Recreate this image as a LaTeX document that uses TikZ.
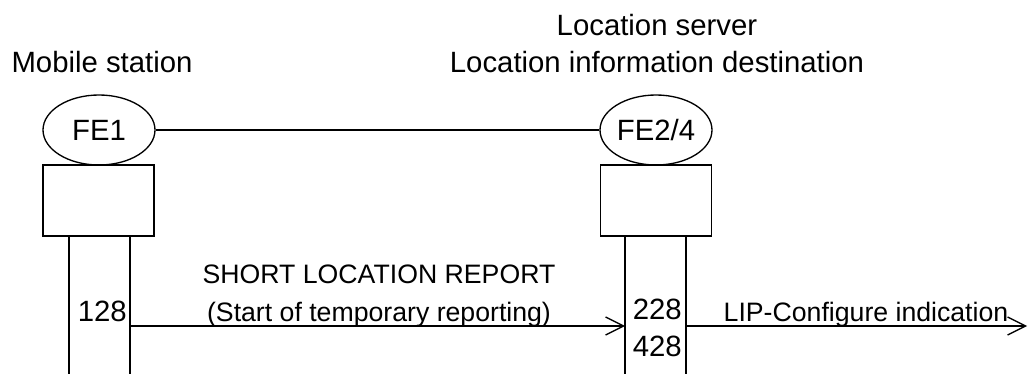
\documentclass[tikz,border=0pt]{standalone}
\usepackage{fontspec}
\setmainfont{Liberation Sans}
\usetikzlibrary{positioning,shapes.geometric,arrows.meta}
\tikzset{
 fe/.style
  = {ellipse, draw, line width=1pt, minimum width=84pt, minimum height=52.5pt,
     inner sep=0pt, font=\fontsize{22}{26}\selectfont},
 fb/.style
  = {rectangle, draw, line width=1pt, minimum width=83.25pt, minimum height=53.25pt},
 hd/.style
  = {anchor=base, inner sep=0pt, font=\fontsize{22}{26}\selectfont},
 num/.style
  = {anchor=base east, inner sep=0pt, font=\fontsize{22}{26}\selectfont},
 lbl/.style
  = {anchor=base, inner sep=0pt, font=\fontsize{20}{24}\selectfont},
 l/.style
  = {draw, line width=1pt},
 la/.style
  = {draw, line width=1pt, -{Straight Barb[length=13.5pt,width=13.5pt]}}
}
\begin{document}
\begin{tikzpicture}[x=0.75pt,y=-0.75pt]
    \useasboundingbox (0,0) rectangle (1029,374);
    \node [hd] (ms) at (102,73) {Mobile station};
    \node [hd] (ls) at (657,36) {Location server};
    \node [hd] (lid) at (657,73) {Location information destination};

    \node [fe] (fe1) at (99,130) {FE1};
    \node [fe] (fe2) at (656,130) {FE2/4};
    \node [fb] (fe1box) at (98.5,200.5) {};
    \node [fb] (fe2box) at (656,200.5) {};
    \path [l] (fe1) -- (fe2);

    % lifelines
    \foreach \x/\n in {69/msa,130/msb,625/lsa,686/lsb} {
      \coordinate (\n-t) at (\x,236);
      \coordinate (\n-b) at (\x,374);
      \path [l] (\n-t) -- (\n-b);
    }
    \coordinate (msb-m) at (130,326);
    \coordinate (lsa-m) at (625,326);
    \coordinate (lsb-m) at (686,326);
    \coordinate (out) at (1027,326);

    \node [num] (n128) at (127,321) {128};
    \node [num] (n228) at (682,320) {228};
    \node [num] (n428) at (682,356) {428};

    \path [la] (msb-m) -- (lsa-m);
    \node [lbl] (slr) at (379,284) {SHORT LOCATION REPORT};
    \node [lbl] (start) at (379,321) {(Start of temporary reporting)};
    \path [la] (lsb-m) -- (out);
    \node [lbl] (lipci) at (866,321) {LIP-Configure indication};
\end{tikzpicture}
\end{document}
